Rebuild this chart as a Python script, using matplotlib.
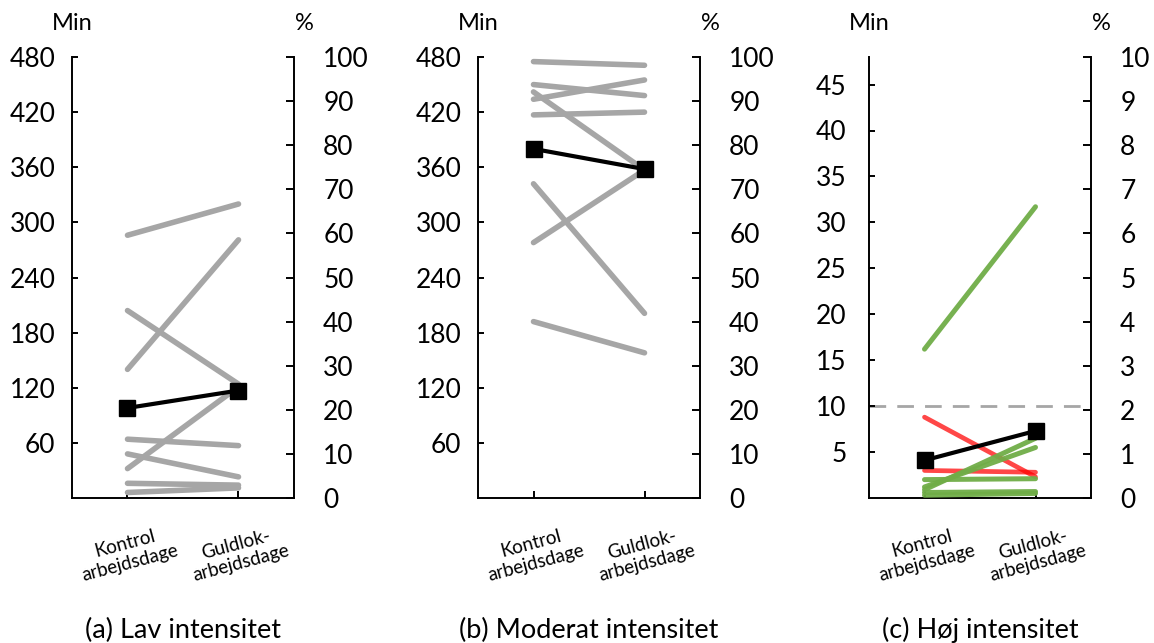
import matplotlib
matplotlib.use("Agg")
import matplotlib.pyplot as plt
import numpy as np

plt.rcParams['font.family'] = ['Lato', 'DejaVu Sans']

categories = ["Kontrol\narbejdsdage", "Guldlok-\narbejdsdage"]

# Panel (a) Lav intensitet: individual participants (min), control vs guldlok
low_kontrol = [286, 140, 204, 64, 48, 32, 16, 6]
low_guldlok = [320, 281, 124, 57, 23, 121, 14, 11]
low_mean = [98, 117]

# Panel (b) Moderat intensitet
mod_kontrol = [475, 450, 434, 417, 442, 342, 278, 192]
mod_guldlok = [471, 438, 455, 420, 357, 201, 357, 158]
mod_mean = [380, 358]

# Panel (c) Høj intensitet: green = increased, red = decreased
high_green_kontrol = [16.2, 2.0, 0.9, 1.2, 0.6, 0.3]
high_green_guldlok = [31.7, 2.1, 6.5, 5.5, 0.7, 0.5]
high_red_kontrol = [8.8, 3.0]
high_red_guldlok = [2.3, 2.8]
high_mean = [4.1, 7.3]
high_threshold = 10

titles = ["(a) Lav intensitet", "(b) Moderat intensitet", "(c) Høj intensitet"]
left_ticks = [list(range(60, 481, 60)), list(range(60, 481, 60)), list(range(5, 46, 5))]
left_lims = [480, 480, 48]
right_ticks = [list(range(0, 101, 10)), list(range(0, 101, 10)), list(range(0, 11, 1))]
right_lims = [100, 100, 10]

GRAY = "#A6A6A6"
GREEN = "#70AD47"
RED = "#FF0000"

fig = plt.figure(figsize=(11.54, 6.43), dpi=100)
lefts = [72 / 1154, 478 / 1154, 869 / 1154]
width = 222 / 1154
bottom = 1 - 498 / 643
height = (498 - 57) / 643

x = np.arange(2)
for i in range(3):
    ax = fig.add_axes([lefts[i], bottom, width, height])
    ax.set_xlim(-0.5, 1.5)
    ax.set_ylim(0, left_lims[i])
    if i == 0:
        for a, b in zip(low_kontrol, low_guldlok):
            ax.plot(x, [a, b], color=GRAY, lw=4.0, solid_capstyle='round', zorder=2)
        ax.plot(x, low_mean, color='black', lw=3.0, marker='s', markersize=11, zorder=5)
    elif i == 1:
        for a, b in zip(mod_kontrol, mod_guldlok):
            ax.plot(x, [a, b], color=GRAY, lw=4.0, solid_capstyle='round', zorder=2)
        ax.plot(x, mod_mean, color='black', lw=3.0, marker='s', markersize=11, zorder=5)
    else:
        ax.axhline(high_threshold, color=GRAY, lw=2.0, ls=(0, (6, 4)), zorder=1)
        for a, b in zip(high_red_kontrol, high_red_guldlok):
            ax.plot(x, [a, b], color=RED, alpha=0.72, lw=3.4, solid_capstyle='round', zorder=2)
        for a, b in zip(high_green_kontrol, high_green_guldlok):
            ax.plot(x, [a, b], color=GREEN, alpha=0.95, lw=3.6, solid_capstyle='round', zorder=3)
        ax.plot(x, high_mean, color='black', lw=3.0, marker='s', markersize=11, zorder=5)

    ax.set_yticks(left_ticks[i])
    ax.set_yticklabels([str(t) for t in left_ticks[i]])
    ax.spines['top'].set_visible(False)
    ax.spines['right'].set_visible(False)
    for s in ['left', 'bottom']:
        ax.spines[s].set_linewidth(1.4)
    ax.tick_params(axis='y', direction='in', length=4, width=1.4, labelsize=19,
                   pad=12 if i < 2 else 16)
    ax.set_xticks(x)
    ax.set_xticklabels(categories, rotation=15, fontsize=13.5, ha='center',
                       rotation_mode='default', linespacing=1.15)
    ax.tick_params(axis='x', direction='in', length=5, width=1.4, pad=18)

    ax2 = ax.twinx()
    ax2.set_ylim(0, right_lims[i])
    ax2.set_yticks(right_ticks[i])
    ax2.spines['top'].set_visible(False)
    ax2.spines['left'].set_visible(False)
    ax2.spines['bottom'].set_visible(False)
    ax2.spines['right'].set_linewidth(1.4)
    ax2.tick_params(axis='y', direction='in', length=6, width=1.4, labelsize=19, pad=21)

    ax.text(0.0, 1.075, "Min", transform=ax.transAxes, ha='center', va='center', fontsize=17)
    ax.text(1.045, 1.075, "%", transform=ax.transAxes, ha='center', va='center', fontsize=17)
    ax.text(0.5, -0.30, titles[i], transform=ax.transAxes,
            ha='center', va='center', fontsize=19.5)

fig.savefig("out.png", dpi=100)
